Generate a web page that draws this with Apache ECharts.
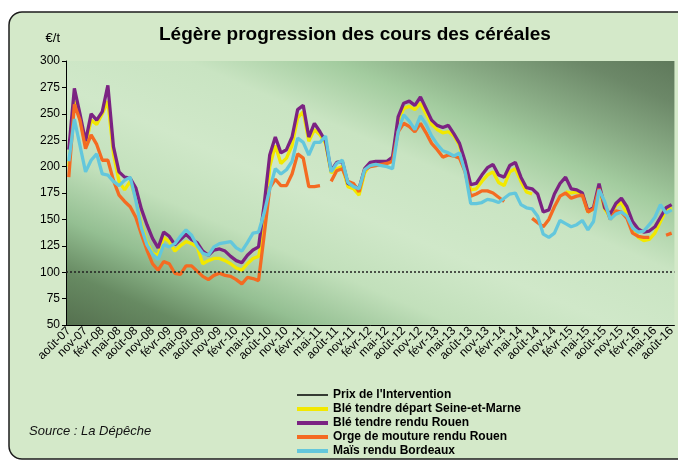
<!DOCTYPE html>
<html><head><meta charset="utf-8">
<script src="https://cdn.jsdelivr.net/npm/echarts@6/dist/echarts.min.js"></script>
<style>html,body{margin:0;padding:0;background:#fff;}#c{width:678px;height:460px;}</style>
</head><body><div id="c"></div>
<script>
const monthNames = ['janv','févr','mars','avr','mai','juin','juil','août','sept','oct','nov','déc'];
const categories = [];
for (let k = 0; k < 109; k++) {
  const m = (7 + k) % 12;
  const y = 7 + Math.floor((7 + k) / 12);
  categories.push(monthNames[m] + '-' + String(y).padStart(2, '0'));
}
const interventionPrice = 100;
const bleSeineEtMarne = [200,262,245,220,244,240,250,262,212,186,178,186,170,145,128,118,116,133,129,120,125,129,127,124,108,111,113,113,111,108,104,102,108,113,115,140,200,220,203,208,220,246,252,224,235,230,222,194,198,200,181,179,173,194,202,203,203,203,205,243,255,257,254,260,250,240,235,232,233,229,220,200,178,179,186,192,195,185,182,195,198,186,176,174,null,null,null,null,null,176,175,176,174,157,160,180,160,152,163,166,155,143,133,130,131,137,148,159,161];
const bleRouen = [216,274,250,224,250,244,252,277,219,195,190,189,180,160,145,132,123,138,134,126,131,136,131,128,120,116,121,122,120,115,111,109,116,121,124,164,211,228,213,216,228,254,258,228,241,233,224,196,204,205,184,182,179,198,204,205,205,205,209,247,260,262,258,266,255,244,239,237,239,231,222,205,183,184,192,199,202,192,190,201,204,190,180,179,174,157,159,174,184,190,179,178,175,158,161,184,161,155,165,170,162,148,141,138,139,143,152,161,164];
const orgeRouen = [190,259,244,217,230,221,206,206,187,173,167,162,152,136,121,108,102,110,108,99,98,106,106,101,96,93,97,99,97,96,93,89,95,94,92,135,180,188,182,182,193,212,208,181,181,182,null,186,196,198,186,184,176,197,200,201,202,203,205,233,241,238,233,241,232,222,216,209,211,210,208,195,172,174,177,177,175,171,167,null,null,null,null,151,147,143,150,162,172,175,170,172,173,157,160,179,165,150,158,157,151,137,134,133,133,null,null,135,137];
const maisBordeaux = [205,245,220,195,206,212,193,192,186,182,187,190,168,142,126,117,112,126,124,127,134,140,135,125,118,116,124,127,128,129,123,120,128,137,138,156,179,198,193,197,205,227,223,211,223,223,229,195,203,206,185,181,179,197,201,202,201,200,198,233,249,243,235,248,240,229,221,215,213,210,213,195,165,165,166,169,168,166,170,174,175,164,161,160,153,136,133,137,149,146,143,145,149,140,148,178,167,150,155,157,153,142,138,139,145,152,164,156,159];

const FONT = "'Liberation Sans', Arial, sans-serif";
const chart = echarts.init(document.getElementById('c'), null, {renderer: 'canvas'});
const lineSeries = (name, data, color) => ({
  name, type: 'line', data, color, symbol: 'none', showSymbol: false, connectNulls: false,
  lineStyle: {width: 3.3, color}, itemStyle: {color}, emphasis: {disabled: true}
});
const legendText = {fontSize: 12, fontWeight: 'bold', color: '#000', fontFamily: FONT, lineHeight: 14};
chart.setOption({
  animation: false,
  textStyle: {fontFamily: FONT},
  graphic: [
    {type: 'rect', z: -10, shape: {x: 9, y: 12, width: 720, height: 447, r: 13},
     style: {fill: '#d4e9c9', stroke: '#1c1c1c', lineWidth: 1.5}},
    {type: 'text', left: 29, top: 425, z: 5,
     style: {text: 'Source : La Dépêche', font: "italic 13px 'Liberation Sans', Arial", fill: '#111'}}
  ],
  title: {text: 'Légère progression des cours des céréales', left: 154, top: 20,
    textStyle: {fontSize: 19, fontWeight: 'bold', color: '#000', fontFamily: FONT}},
  grid: {left: 66, right: 3, top: 61, bottom: 135, show: true, borderWidth: 0,
    backgroundColor: {type: 'linear', x: 0.342, y: 1.341, x2: 0.658, y2: -0.341,
      colorStops: [
        {offset: 0, color: '#55704f'}, {offset: 0.1, color: '#678a62'},
        {offset: 0.2, color: '#94bf92'}, {offset: 0.32, color: '#c2e0bb'},
        {offset: 0.45, color: '#d0e8c9'}, {offset: 0.6, color: '#c9e4c2'},
        {offset: 0.72, color: '#a3cc9f'}, {offset: 0.82, color: '#87a983'},
        {offset: 0.92, color: '#6c8868'}, {offset: 1, color: '#5f795b'}]}},
  xAxis: {type: 'category', data: categories, boundaryGap: true,
    axisLine: {lineStyle: {color: '#000', width: 1}},
    axisTick: {interval: 2, length: 4, lineStyle: {color: '#000'}},
    axisLabel: {interval: 2, rotate: 45, fontSize: 12, color: '#000', margin: 4}},
  yAxis: {type: 'value', min: 50, max: 300, interval: 25,
    name: '€/t', nameLocation: 'end', nameGap: 16,
    nameTextStyle: {fontSize: 13, color: '#000', align: 'right', padding: [0, 6, 0, 0]},
    axisLine: {show: true, lineStyle: {color: '#000'}},
    axisTick: {show: true, length: 4, lineStyle: {color: '#000'}},
    axisLabel: {fontSize: 12, color: '#000', margin: 6},
    splitLine: {show: false}},
  legend: [
    {data: ["Prix de l'Intervention"], left: 297, top: 388, orient: 'vertical', icon: 'rect',
     itemWidth: 31, itemHeight: 1.5, padding: 0, selectedMode: false, textStyle: legendText},
    {data: ['Blé tendre départ Seine-et-Marne', 'Blé tendre rendu Rouen', 'Orge de mouture rendu Rouen', 'Maïs rendu Bordeaux'],
     left: 297, top: 402, orient: 'vertical', icon: 'rect', itemWidth: 31, itemHeight: 4, itemGap: 0,
     padding: 0, selectedMode: false, textStyle: legendText}
  ],
  series: [
    {name: "Prix de l'Intervention", type: 'line', data: [], color: '#000', symbol: 'none',
     markLine: {silent: true, symbol: 'none', label: {show: false},
       lineStyle: {color: '#222', type: [2, 2], width: 1.5}, data: [{yAxis: interventionPrice}]}},
    lineSeries('Blé tendre départ Seine-et-Marne', bleSeineEtMarne, '#f2e800'),
    lineSeries('Blé tendre rendu Rouen', bleRouen, '#7b2382'),
    lineSeries('Orge de mouture rendu Rouen', orgeRouen, '#f46b22'),
    lineSeries('Maïs rendu Bordeaux', maisBordeaux, '#63c7dc')
  ]
});
</script></body></html>
